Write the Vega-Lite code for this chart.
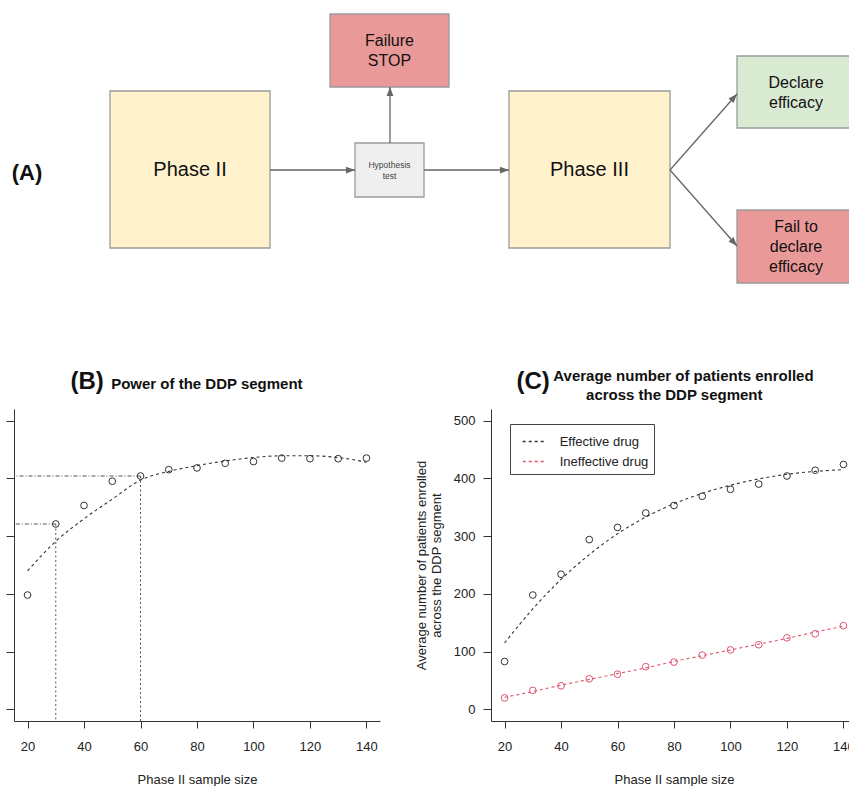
{
  "$schema": "https://vega.github.io/schema/vega-lite/v6.json",
  "background": "white",
  "padding": {"left": 5, "top": 0, "right": 5, "bottom": 5},
  "bounds": "flush",
  "spacing": 109,
  "config": {
    "font": "Liberation Sans",
    "view": {"stroke": null},
    "axis": {
      "grid": false,
      "domainColor": "#333333",
      "tickColor": "#333333",
      "labelColor": "#222222",
      "titleColor": "#222222",
      "labelFontSize": 13,
      "titleFontSize": 13,
      "titleFontWeight": "normal",
      "labelFont": "Liberation Sans",
      "titleFont": "Liberation Sans"
    }
  },
  "datasets": {
    "boxes": [
      {"id": "p2", "kind": "phase", "x": 109, "x2": 269, "y": 91, "y2": 248, "cx": 189, "cy": 170, "label": "Phase II"},
      {"id": "p3", "kind": "phase", "x": 508, "x2": 669, "y": 91, "y2": 248, "cx": 588.5, "cy": 170, "label": "Phase III"},
      {"id": "stop", "kind": "fail", "x": 329, "x2": 448, "y": 14, "y2": 87, "cx": 388.5, "cy": 40.7, "label": "Failure\nSTOP"},
      {"id": "test", "kind": "test", "x": 354, "x2": 423, "y": 143, "y2": 197, "cx": 388.5, "cy": 164.5, "label": "Hypothesis\ntest"},
      {"id": "yes", "kind": "success", "x": 736, "x2": 855, "y": 56, "y2": 128, "cx": 795, "cy": 83.3, "label": "Declare\nefficacy"},
      {"id": "no", "kind": "fail", "x": 736, "x2": 855, "y": 210, "y2": 283, "cx": 795, "cy": 227, "label": "Fail to\ndeclare\nefficacy"}
    ],
    "arrows": [
      {"x": 269, "y": 170, "x2": 354, "y2": 170, "angle": 0},
      {"x": 423, "y": 170, "x2": 508, "y2": 170, "angle": 0},
      {"x": 389, "y": 143, "x2": 389, "y2": 87, "angle": 270},
      {"x": 669, "y": 170, "x2": 736, "y2": 94, "angle": 311.4},
      {"x": 669, "y": 170, "x2": 736, "y2": 246, "angle": 48.6}
    ],
    "power": [
      {"n": 20, "power": 0.698, "fit": 0.740},
      {"n": 30, "power": 0.821, "fit": 0.791},
      {"n": 40, "power": 0.853, "fit": 0.830},
      {"n": 50, "power": 0.895, "fit": 0.864},
      {"n": 60, "power": 0.904, "fit": 0.897},
      {"n": 70, "power": 0.915, "fit": 0.912},
      {"n": 80, "power": 0.918, "fit": 0.922},
      {"n": 90, "power": 0.926, "fit": 0.930},
      {"n": 100, "power": 0.929, "fit": 0.936},
      {"n": 110, "power": 0.935, "fit": 0.939},
      {"n": 120, "power": 0.934, "fit": 0.939},
      {"n": 130, "power": 0.934, "fit": 0.936},
      {"n": 140, "power": 0.935, "fit": 0.928}
    ],
    "guides": [
      {"n": 30, "power": 0.821},
      {"n": 60, "power": 0.904}
    ],
    "enrol": [
      {"n": 20, "series": "Effective drug", "obs": 83, "fit": 115},
      {"n": 30, "series": "Effective drug", "obs": 198, "fit": 174},
      {"n": 40, "series": "Effective drug", "obs": 234, "fit": 225},
      {"n": 50, "series": "Effective drug", "obs": 294, "fit": 268},
      {"n": 60, "series": "Effective drug", "obs": 315, "fit": 304},
      {"n": 70, "series": "Effective drug", "obs": 340, "fit": 333},
      {"n": 80, "series": "Effective drug", "obs": 353, "fit": 356},
      {"n": 90, "series": "Effective drug", "obs": 369, "fit": 374},
      {"n": 100, "series": "Effective drug", "obs": 381, "fit": 388},
      {"n": 110, "series": "Effective drug", "obs": 390, "fit": 399},
      {"n": 120, "series": "Effective drug", "obs": 404, "fit": 407},
      {"n": 130, "series": "Effective drug", "obs": 414, "fit": 412},
      {"n": 140, "series": "Effective drug", "obs": 424, "fit": 415},
      {"n": 20, "series": "Ineffective drug", "obs": 20, "fit": 21},
      {"n": 30, "series": "Ineffective drug", "obs": 33, "fit": 31},
      {"n": 40, "series": "Ineffective drug", "obs": 41, "fit": 42},
      {"n": 50, "series": "Ineffective drug", "obs": 53, "fit": 52},
      {"n": 60, "series": "Ineffective drug", "obs": 61, "fit": 62},
      {"n": 70, "series": "Ineffective drug", "obs": 74, "fit": 72},
      {"n": 80, "series": "Ineffective drug", "obs": 82, "fit": 83},
      {"n": 90, "series": "Ineffective drug", "obs": 94, "fit": 93},
      {"n": 100, "series": "Ineffective drug", "obs": 103, "fit": 103},
      {"n": 110, "series": "Ineffective drug", "obs": 112, "fit": 113},
      {"n": 120, "series": "Ineffective drug", "obs": 124, "fit": 123},
      {"n": 130, "series": "Ineffective drug", "obs": 131, "fit": 134},
      {"n": 140, "series": "Ineffective drug", "obs": 145, "fit": 144}
    ]
  },
  "vconcat": [
    {
      "width": 844,
      "height": 300,
      "layer": [
        {
          "data": {"name": "boxes"},
          "mark": {"type": "rect", "stroke": "#9a9a9a", "strokeWidth": 1.3},
          "encoding": {
            "x": {"field": "x", "type": "quantitative", "scale": {"domain": [13, 857], "nice": false, "zero": false}, "axis": null},
            "x2": {"field": "x2"},
            "y": {"field": "y", "type": "quantitative", "scale": {"domain": [0, 300], "nice": false, "zero": false, "reverse": true}, "axis": null},
            "y2": {"field": "y2"},
            "fill": {"field": "kind", "type": "nominal", "scale": {"domain": ["phase", "fail", "success", "test"], "range": ["#fff2cc", "#ea9999", "#d9ead3", "#efefef"]}, "legend": null}
          }
        },
        {
          "data": {"name": "arrows"},
          "mark": {"type": "rule", "color": "#666666", "strokeWidth": 1.3},
          "encoding": {
            "x": {"field": "x", "type": "quantitative"},
            "x2": {"field": "x2"},
            "y": {"field": "y", "type": "quantitative"},
            "y2": {"field": "y2"}
          }
        },
        {
          "data": {"name": "arrows"},
          "mark": {"type": "point", "shape": "M0,0L-2,-0.75L-2,0.75Z", "filled": true, "color": "#666666", "size": 81, "opacity": 1},
          "encoding": {
            "x": {"field": "x2", "type": "quantitative"},
            "y": {"field": "y2", "type": "quantitative"},
            "angle": {"field": "angle", "type": "quantitative", "scale": null}
          }
        },
        {
          "data": {"name": "boxes"},
          "transform": [{"filter": "datum.kind === 'phase'"}],
          "mark": {"type": "text", "fontSize": 20, "color": "#111111", "align": "center", "baseline": "middle"},
          "encoding": {
            "x": {"field": "cx", "type": "quantitative"},
            "y": {"field": "cy", "type": "quantitative"},
            "text": {"field": "label"}
          }
        },
        {
          "data": {"name": "boxes"},
          "transform": [{"filter": "datum.kind === 'fail' || datum.kind === 'success'"}],
          "mark": {"type": "text", "fontSize": 16, "color": "#111111", "align": "center", "baseline": "middle", "lineBreak": "\n", "lineHeight": 20},
          "encoding": {
            "x": {"field": "cx", "type": "quantitative"},
            "y": {"field": "cy", "type": "quantitative"},
            "text": {"field": "label"}
          }
        },
        {
          "data": {"name": "boxes"},
          "transform": [{"filter": "datum.kind === 'test'"}],
          "mark": {"type": "text", "fontSize": 8.5, "color": "#444444", "align": "center", "baseline": "middle", "lineBreak": "\n", "lineHeight": 11.5},
          "encoding": {
            "x": {"field": "cx", "type": "quantitative"},
            "y": {"field": "cy", "type": "quantitative"},
            "text": {"field": "label"}
          }
        },
        {
          "data": {"values": [{"t": "(A)", "px": 26, "py": 173}]},
          "mark": {"type": "text", "fontSize": 22, "fontWeight": "bold", "color": "#111111", "align": "center", "baseline": "middle"},
          "encoding": {
            "x": {"field": "px", "type": "quantitative"},
            "y": {"field": "py", "type": "quantitative"},
            "text": {"field": "t"}
          }
        }
      ]
    },
    {
      "bounds": "flush",
      "spacing": 111,
      "hconcat": [
        {
          "width": 366,
          "height": 312,
          "layer": [
            {
              "data": {"name": "guides"},
              "mark": {"type": "rule", "color": "#555555", "strokeWidth": 1, "strokeDash": [2, 2.5]},
              "encoding": {
                "x": {"field": "n", "type": "quantitative", "scale": {"domain": [15.2, 144.8], "nice": false, "zero": false}},
                "y": {"field": "power", "type": "quantitative", "scale": {"domain": [0.48, 1.02], "nice": false, "zero": false}},
                "y2": {"datum": 0.48}
              }
            },
            {
              "data": {"name": "guides"},
              "mark": {"type": "rule", "color": "#555555", "strokeWidth": 1, "strokeDash": [4, 2, 1, 2]},
              "encoding": {
                "x": {"field": "n", "type": "quantitative"},
                "x2": {"datum": 15.2},
                "y": {"field": "power", "type": "quantitative"}
              }
            },
            {
              "data": {"name": "power"},
              "mark": {"type": "line", "color": "#333333", "strokeWidth": 1.1, "strokeDash": [3, 3], "interpolate": "monotone"},
              "encoding": {
                "x": {"field": "n", "type": "quantitative"},
                "y": {"field": "fit", "type": "quantitative"}
              }
            },
            {
              "data": {"name": "power"},
              "mark": {"type": "point", "shape": "circle", "filled": false, "color": "#333333", "size": 45, "strokeWidth": 1, "opacity": 1},
              "encoding": {
                "x": {
                  "field": "n", "type": "quantitative",
                  "axis": {"values": [20, 40, 60, 80, 100, 120, 140], "tickSize": 7, "labelPadding": 12, "title": "Phase II sample size", "titlePadding": 20, "format": "d"}
                },
                "y": {
                  "field": "power", "type": "quantitative",
                  "axis": {"values": [0.5, 0.6, 0.7, 0.8, 0.9, 1.0], "labels": false, "tickSize": 8, "title": null}
                }
              }
            },
            {
              "data": {"values": [{"t": "(B)", "px": 35.2, "py": 1.0543}]},
              "mark": {"type": "text", "fontSize": 24, "fontWeight": "bold", "color": "#111111", "align": "left", "baseline": "alphabetic"},
              "encoding": {
                "x": {"field": "px", "type": "quantitative"},
                "y": {"field": "py", "type": "quantitative"},
                "text": {"field": "t"}
              }
            },
            {
              "data": {"values": [{"t": "Power of the DDP segment", "px": 49.6, "py": 1.0543}]},
              "mark": {"type": "text", "fontSize": 15, "fontWeight": "bold", "color": "#111111", "align": "left", "baseline": "alphabetic"},
              "encoding": {
                "x": {"field": "px", "type": "quantitative"},
                "y": {"field": "py", "type": "quantitative"},
                "text": {"field": "t"}
              }
            }
          ]
        },
        {
          "width": 366,
          "height": 312,
          "layer": [
            {
              "data": {"name": "enrol"},
              "mark": {"type": "line", "strokeWidth": 1.1, "strokeDash": [3, 3], "interpolate": "monotone"},
              "encoding": {
                "x": {"field": "n", "type": "quantitative", "scale": {"domain": [15.2, 144.8], "nice": false, "zero": false}},
                "y": {"field": "fit", "type": "quantitative", "scale": {"domain": [-20, 520], "nice": false, "zero": false}},
                "color": {
                  "field": "series", "type": "nominal",
                  "scale": {"domain": ["Effective drug", "Ineffective drug"], "range": ["#333333", "#DF536B"]},
                  "legend": {
                    "title": null, "orient": "none", "legendX": 496, "legendY": 424,
                    "symbolType": "stroke", "symbolDash": [3, 3], "symbolStrokeWidth": 1.3, "symbolSize": 529,
                    "symbolOffset": 6.7, "labelFontSize": 13, "labelColor": "#222222", "labelOffset": 13,
                    "padding": 5, "rowPadding": -6, "strokeColor": "#444444", "fillColor": "white"
                  }
                }
              }
            },
            {
              "data": {"name": "enrol"},
              "mark": {"type": "point", "shape": "circle", "filled": false, "size": 45, "strokeWidth": 1, "opacity": 1},
              "encoding": {
                "x": {
                  "field": "n", "type": "quantitative",
                  "axis": {"values": [20, 40, 60, 80, 100, 120, 140], "tickSize": 7, "labelPadding": 12, "title": "Phase II sample size", "titlePadding": 20, "format": "d"}
                },
                "y": {
                  "field": "obs", "type": "quantitative",
                  "axis": {"values": [0, 100, 200, 300, 400, 500], "tickSize": 8, "labelPadding": 8, "title": ["Average number of patients enrolled", "across the DDP segment"], "titlePadding": 10, "titleLineHeight": 15}
                },
                "stroke": {
                  "field": "series", "type": "nominal",
                  "scale": {"domain": ["Effective drug", "Ineffective drug"], "range": ["#333333", "#DF536B"]},
                  "legend": null
                }
              }
            },
            {
              "data": {"values": [{"t": "(C)", "px": 24.2, "py": 554.2}]},
              "mark": {"type": "text", "fontSize": 24, "fontWeight": "bold", "color": "#111111", "align": "left", "baseline": "alphabetic"},
              "encoding": {
                "x": {"field": "px", "type": "quantitative"},
                "y": {"field": "py", "type": "quantitative"},
                "text": {"field": "t"}
              }
            },
            {
              "data": {"values": [{"t": "Average number of patients enrolled", "px": 37.25, "py": 567.7}]},
              "mark": {"type": "text", "fontSize": 15, "fontWeight": "bold", "color": "#111111", "align": "left", "baseline": "alphabetic"},
              "encoding": {
                "x": {"field": "px", "type": "quantitative"},
                "y": {"field": "py", "type": "quantitative"},
                "text": {"field": "t"}
              }
            },
            {
              "data": {"values": [{"t": "across the DDP segment", "px": 80.1, "py": 534.9}]},
              "mark": {"type": "text", "fontSize": 15, "fontWeight": "bold", "color": "#111111", "align": "center", "baseline": "alphabetic"},
              "encoding": {
                "x": {"field": "px", "type": "quantitative"},
                "y": {"field": "py", "type": "quantitative"},
                "text": {"field": "t"}
              }
            }
          ]
        }
      ]
    }
  ]
}
